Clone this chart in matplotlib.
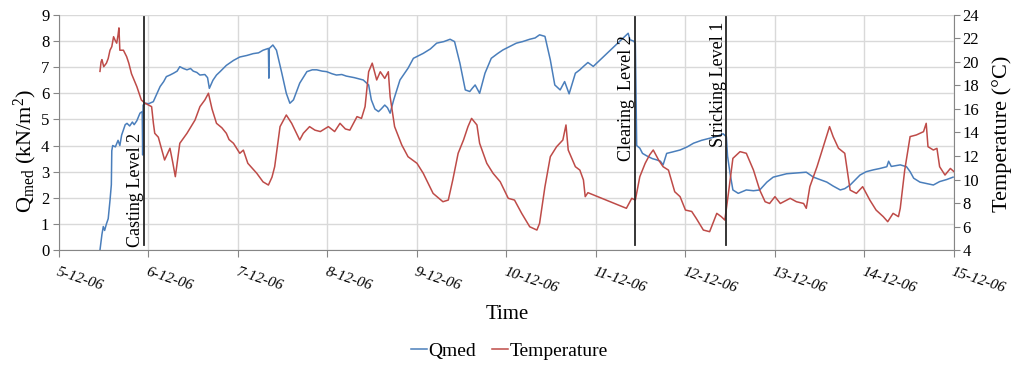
# -*- coding: utf-8 -*-
# Qmed and temperature record, 5-12-06 to 15-12-06
import matplotlib
matplotlib.use('Agg')
import matplotlib.pyplot as plt

# time in days after 5-12-06 00:00
q_t = [0.458, 0.48, 0.495, 0.51, 0.53, 0.55, 0.57, 0.585, 0.59, 0.60, 0.63, 0.66, 0.68, 0.70,
       0.72, 0.74, 0.76, 0.79, 0.82, 0.84, 0.87, 0.905, 0.93, 0.935, 0.94, 0.97, 1.0, 1.054,
       1.09, 1.13, 1.17, 1.2, 1.24, 1.28, 1.32, 1.35, 1.39, 1.43, 1.47, 1.5, 1.54, 1.575, 1.63,
       1.66, 1.68, 1.72, 1.76, 1.8, 1.87, 1.95, 2.02, 2.1, 2.17, 2.23, 2.28, 2.34, 2.345, 2.35,
       2.39, 2.43, 2.49, 2.54, 2.58, 2.62, 2.69, 2.77, 2.83, 2.88, 2.94, 2.99, 3.05, 3.1, 3.16,
       3.21, 3.3, 3.4, 3.46, 3.49, 3.53, 3.57, 3.6, 3.64, 3.67, 3.7, 3.74, 3.81, 3.9, 3.96, 4.07,
       4.15, 4.22, 4.3, 4.37, 4.42, 4.48, 4.54, 4.59, 4.62, 4.65, 4.7, 4.76, 4.83, 4.9, 4.96,
       5.03, 5.11, 5.18, 5.26, 5.32, 5.37, 5.43, 5.49, 5.54, 5.6, 5.65, 5.7, 5.77, 5.82, 5.86,
       5.91, 5.97, 6.36, 6.38, 6.42, 6.44, 6.455, 6.49, 6.52, 6.57, 6.63, 6.68, 6.72, 6.75, 6.79,
       6.85, 6.94, 7.02, 7.09, 7.18, 7.27, 7.35, 7.42, 7.457, 7.47, 7.5, 7.53, 7.59, 7.68, 7.76,
       7.83, 7.87, 7.91, 7.98, 8.05, 8.13, 8.24, 8.35, 8.43, 8.5, 8.58, 8.65, 8.73, 8.78, 8.84,
       8.9, 8.95, 9.02, 9.1, 9.17, 9.25, 9.27, 9.3, 9.4, 9.47, 9.51, 9.55, 9.62, 9.69, 9.77,
       9.84, 9.92, 9.99]
q_val = [0.0, 0.6, 0.9, 0.75, 1.0, 1.2, 1.9, 2.5, 3.8, 4.0, 3.95, 4.2, 4.0, 4.4,
         4.6, 4.8, 4.85, 4.75, 4.9, 4.8, 4.95, 5.24, 5.3, 3.64, 5.55, 5.62, 5.6, 5.68,
         5.95, 6.26, 6.45, 6.64, 6.7, 6.77, 6.85, 7.02, 6.95, 6.9, 6.95, 6.85, 6.8, 6.7, 6.72,
         6.6, 6.19, 6.5, 6.7, 6.83, 7.07, 7.26, 7.39, 7.45, 7.52, 7.55, 7.65, 7.72, 6.58, 7.72,
         7.85, 7.65, 6.77, 6.0, 5.62, 5.75, 6.39, 6.83, 6.9, 6.9, 6.85, 6.83, 6.75, 6.7, 6.72,
         6.66, 6.6, 6.51, 6.32, 5.75, 5.4, 5.3, 5.4, 5.55, 5.45, 5.24, 5.75, 6.51, 6.96, 7.34, 7.53,
         7.7, 7.92, 7.98, 8.07, 7.98, 7.15, 6.13, 6.07, 6.2, 6.32, 6.0, 6.77, 7.34, 7.52, 7.66,
         7.78, 7.92, 7.98, 8.07, 8.12, 8.24, 8.18, 7.28, 6.32, 6.13, 6.45, 5.98, 6.77, 6.9, 7.03,
         7.18, 7.03, 8.3, 8.05, 8.0, 7.92, 4.0, 3.9, 3.7, 3.6, 3.5, 3.45, 3.4, 3.26, 3.7,
         3.75, 3.83, 3.95, 4.09, 4.2, 4.28, 4.35, 4.45, 4.34, 3.6, 2.9, 2.3, 2.17, 2.3, 2.27,
         2.3, 2.45, 2.6, 2.79, 2.85, 2.92, 2.95, 2.98, 2.79, 2.7, 2.6, 2.45, 2.3, 2.35, 2.49,
         2.7, 2.87, 3.0, 3.07, 3.12, 3.19, 3.4, 3.2, 3.26, 3.19, 3.0, 2.75, 2.6, 2.55, 2.49,
         2.62, 2.7, 2.79]

temp_t = [0.458, 0.47, 0.48, 0.5, 0.53, 0.55, 0.57, 0.59, 0.61, 0.63, 0.645, 0.66, 0.67, 0.68,
          0.72, 0.756, 0.78, 0.81, 0.87, 0.92, 0.96, 1.0, 1.035, 1.055, 1.07, 1.11, 1.15, 1.18,
          1.24, 1.27, 1.3, 1.35, 1.43, 1.52, 1.575, 1.63, 1.67, 1.71, 1.76, 1.82, 1.87, 1.9,
          1.95, 2.02, 2.06, 2.11, 2.21, 2.28, 2.34, 2.38, 2.41, 2.47, 2.54, 2.6, 2.69, 2.73,
          2.8, 2.86, 2.92, 3.01, 3.08, 3.14, 3.2, 3.25, 3.33, 3.38, 3.42, 3.46, 3.5, 3.55,
          3.59, 3.64, 3.68, 3.7, 3.75, 3.83, 3.9, 4.0, 4.07, 4.18, 4.29, 4.35, 4.4, 4.46, 4.52,
          4.57, 4.61, 4.67, 4.7, 4.78, 4.85, 4.93, 5.02, 5.09, 5.17, 5.26, 5.34, 5.37, 5.43,
          5.49, 5.56, 5.63, 5.665, 5.69, 5.77, 5.82, 5.86, 5.88, 5.91, 6.34, 6.4, 6.44, 6.49,
          6.55, 6.6, 6.64, 6.7, 6.75, 6.81, 6.88, 6.94, 7.0, 7.07, 7.12, 7.2, 7.27, 7.35,
          7.4, 7.44, 7.48, 7.53, 7.61, 7.68, 7.76, 7.83, 7.89, 7.94, 8.0, 8.06, 8.17, 8.24,
          8.32, 8.35, 8.39, 8.47, 8.54, 8.61, 8.65, 8.71, 8.78, 8.84, 8.91, 8.98, 9.06, 9.13,
          9.21, 9.26, 9.32, 9.38, 9.4, 9.45, 9.51, 9.58, 9.66, 9.69, 9.71, 9.77, 9.81, 9.84,
          9.9, 9.96, 10.0]
temp_val = [19.2, 20.0, 20.2, 19.6, 19.9, 20.3, 21.0, 21.3, 22.15, 21.8, 21.6, 22.3, 22.9, 21.0,
            21.0, 20.45, 19.9, 19.0, 17.9, 16.77, 16.5, 16.34, 16.2, 14.78, 13.93, 13.6, 12.5, 11.66,
            12.66, 11.5, 10.24, 13.08, 13.93, 15.06, 16.2, 16.77, 17.34, 16.0, 14.78, 14.4, 13.93, 13.4,
            13.08, 12.23, 12.5, 11.38, 10.53, 9.8, 9.53, 10.2, 11.09, 14.5, 15.49, 14.78, 13.36, 13.93,
            14.5, 14.2, 14.08, 14.5, 14.08, 14.78, 14.3, 14.2, 15.35, 15.2, 16.2, 19.17, 19.9, 18.47,
            19.17, 18.6, 19.17, 17.05, 14.5, 12.94, 11.94, 11.38, 10.53, 8.82, 8.11, 8.25, 9.96, 12.23, 13.36,
            14.5, 15.2, 14.64, 13.08, 11.38, 10.53, 9.81, 8.4, 8.25, 7.12, 5.98, 5.7, 6.27, 9.39,
            11.94, 12.79, 13.36, 14.64, 12.51, 11.09, 10.8, 9.96, 8.54, 8.88, 7.55, 8.4, 8.25, 10.24,
            11.38, 12.1, 12.51, 11.66, 11.09, 10.8, 8.96, 8.54, 7.4, 7.28, 6.7, 5.7, 5.56, 7.12,
            6.84, 6.55, 8.82, 11.8, 12.37, 12.23, 10.8, 9.1, 8.11, 7.96, 8.54, 7.96, 8.4, 8.11,
            7.96, 7.55, 9.39, 11.09, 12.79, 14.5, 13.65, 12.66, 12.23, 9.1, 8.82, 9.39, 8.25, 7.4,
            6.84, 6.41, 7.12, 6.84, 7.55, 10.8, 13.65, 13.79, 14.07, 14.78, 12.79, 12.51, 12.65, 11.09,
            10.38, 10.94, 10.67]

# construction events (day, label)
event_t = [0.95, 6.436, 7.457]
event_lbl = ['Casting Level 2', 'Clearing  Level 2', 'Stricking Level 1']
event_lbl_x = [0.85, 6.345, 7.37]
event_lbl_y = [2.3, 5.8, 6.35]

day_lbl = ['5-12-06', '6-12-06', '7-12-06', '8-12-06', '9-12-06', '10-12-06',
           '11-12-06', '12-12-06', '13-12-06', '14-12-06', '15-12-06']

blue = '#4a7ebb'
red = '#be4b48'
grey = '#868686'

plt.rcParams['font.family'] = 'Liberation Serif'
plt.rcParams['mathtext.fontset'] = 'custom'
plt.rcParams['mathtext.rm'] = 'Liberation Serif'
plt.rcParams['mathtext.it'] = 'Liberation Serif:italic'

fig = plt.figure(figsize=(10.17, 3.65), dpi=100)
ax = fig.add_axes([0.058, 0.315, 0.880, 0.644])
ax2 = ax.twinx()

l1, = ax.plot(q_t, q_val, color=blue, lw=1.1, label='Qmed')
l2, = ax2.plot(temp_t, temp_val, color=red, lw=1.1, label='Temperature')

ax.set_xlim(0, 10)
ax.set_ylim(0, 9)
ax2.set_ylim(4, 24)
ax.set_yticks(range(0, 10))
ax2.set_yticks(range(4, 25, 2))
ax.set_xticks(range(0, 11))
ax.set_xticklabels(day_lbl, rotation=-18, ha='left', va='top',
                   rotation_mode='anchor', style='italic', fontsize=11)

ax.grid(True, color='#d9d9d9', lw=1.0)
ax.set_axisbelow(True)
for a in (ax, ax2):
    a.spines['top'].set_visible(False)
    for s in ('left', 'bottom', 'right'):
        a.spines[s].set_color(grey)
ax.spines['right'].set_visible(False)
ax2.spines['left'].set_visible(False)
ax2.spines['bottom'].set_visible(False)
ax.tick_params(axis='y', length=4, color=grey, labelsize=12, pad=3)
ax.tick_params(axis='x', length=5, color=grey, pad=6)
ax2.tick_params(axis='y', length=4, color=grey, labelsize=12, pad=2)

for t, lbl, lx, ly in zip(event_t, event_lbl, event_lbl_x, event_lbl_y):
    ax2.axvline(t, ymin=0.02, ymax=0.99, color='#262626', lw=1.3, zorder=5)
    ax2.text(lx, ly, lbl, transform=ax.transData, rotation=90, fontsize=13,
             ha='center', va='center', zorder=6)

fig.text(0.025, 0.586, r'Q$_{\rm med}$ (kN/m$^2$)', rotation=90,
         ha='center', va='center', fontsize=16)
fig.text(0.985, 0.634, 'Temperature (\u00b0C)', rotation=90,
         ha='center', va='center', fontsize=16)
fig.text(0.4985, 0.137, 'Time', ha='center', va='center', fontsize=15)

fig.legend([l1, l2], ['Qmed', 'Temperature'], loc='center', bbox_to_anchor=(0.501, 0.038),
           ncol=2, frameon=False, fontsize=14, handlelength=0.8, handletextpad=0.1,
           columnspacing=0.8)

fig.savefig('out.png', dpi=100)
